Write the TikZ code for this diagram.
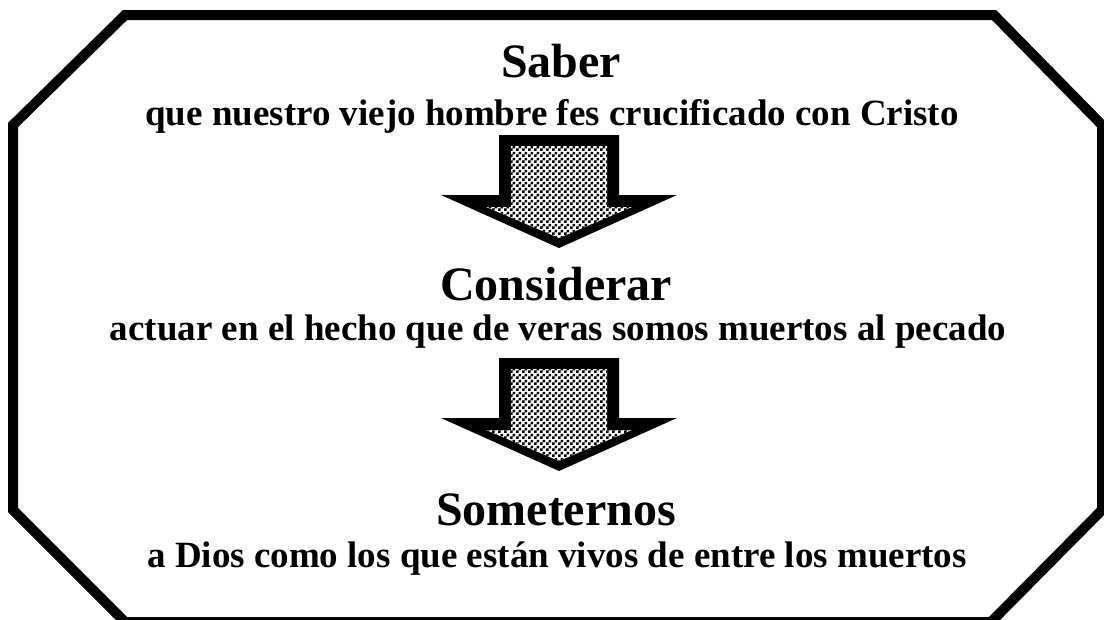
\documentclass[tikz,border=0pt]{standalone}
\usepackage{fontspec}
\setmainfont{Liberation Serif}
\usetikzlibrary{patterns}
\pgfdeclarepatternformonly{ckr}{\pgfpointorigin}{\pgfqpoint{6pt}{6pt}}{\pgfqpoint{6pt}{6pt}}{%
  \pgfpathrectangle{\pgfpointorigin}{\pgfqpoint{3pt}{3pt}}%
  \pgfpathrectangle{\pgfqpoint{3pt}{3pt}}{\pgfqpoint{3pt}{3pt}}%
  \pgfusepath{fill}}
\tikzset{
  frame/.style={draw=black, line width=10pt, line join=miter},
  titletext/.style={font=\bfseries\fontsize{48}{50}\selectfont, inner sep=0pt, anchor=base},
  subtext/.style={font=\bfseries\fontsize{37}{40}\selectfont, inner sep=0pt, anchor=base},
  downarrow/.pic={
    \fill[black] (-60,0) -- (60,0) -- (60,60) -- (118,60) -- (0,113) -- (-118,60) -- (-60,60) -- cycle;
    \path[fill=white, postaction={pattern=ckr}] (-48,11) -- (48,11) -- (48,72) -- (73,72) -- (0,103) -- (-73,72) -- (-48,72) -- cycle;
  }
}
\begin{document}
\begin{tikzpicture}[x=1pt,y=-1pt]
\useasboundingbox (0,0) rectangle (1104,619);
\draw[frame] (125,15) -- (994,15) -- (1102,125) -- (1102,510) -- (991,622) -- (125,622) -- (13,510) -- (13,125) -- cycle;
\node[titletext] (saber) at (561,77) {Saber};
\node[subtext] (s1) at (552,125) {que nuestro viejo hombre fes crucificado con Cristo};
\pic at (559,135) {downarrow};
\node[titletext] (considerar) at (556,300) {Considerar};
\node[subtext] (s2) at (558,340) {actuar en el hecho que de veras somos muertos al pecado};
\pic at (559,358) {downarrow};
\node[titletext] (someternos) at (556,525) {Someternos};
\node[subtext] (s3) at (557,567) {a Dios como los que están vivos de entre los muertos};
\end{tikzpicture}
\end{document}
